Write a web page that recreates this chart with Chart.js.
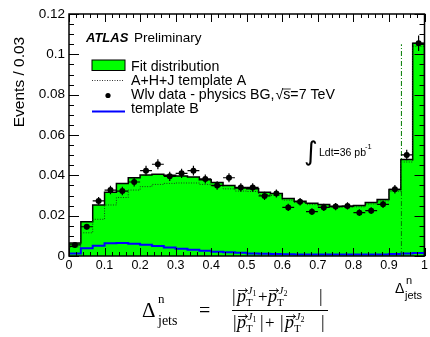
<!DOCTYPE html>
<html><head><meta charset="utf-8">
<script src="https://cdn.jsdelivr.net/npm/chart.js@4/dist/chart.umd.min.js"></script>
<style>html,body{margin:0;padding:0;background:#fff;}#wrap{position:relative;width:430px;height:337px;}</style>
</head><body><div id="wrap"><canvas id="c" width="430" height="337"></canvas></div>
<script>
// ---- data (30 bins of width 1/30 between 0 and 1) ----
const nBins = 30;
const xTickLabels = ['0','0.1','0.2','0.3','0.4','0.5','0.6','0.7','0.8','0.9','1'];
const yTickLabels = ['0','0.02','0.04','0.06','0.08','0.1','0.12'];
const fitValues = [0.0065,0.0170,0.0253,0.0316,0.0360,0.0388,0.0402,0.0405,0.0400,0.0397,
                   0.0392,0.0378,0.0364,0.0350,0.0337,0.0333,0.0316,0.0310,0.0285,0.0272,
                   0.0262,0.0255,0.0247,0.0247,0.0250,0.0265,0.0280,0.0330,0.0478,0.1055];
const templateA = [0.0045,0.0115,0.0182,0.0253,0.0290,0.0327,0.0344,0.0355,0.0360,0.0362,
                   0.0362,0.0355,0.0345,0.0333,0.0322,0.0320,0.0305,0.0300,0.0277,0.0265,
                   0.0255,0.0248,0.0241,0.0241,0.0244,0.0258,0.0273,0.0321,0.0466,0.1040];
const templateB = [0.0013,0.0038,0.0051,0.0063,0.0064,0.0061,0.0056,0.0050,0.0042,0.0036,
                   0.0031,0.0026,0.0021,0.0019,0.0016,0.0013,0.0011,0.0010,0.0009,0.0008,
                   0.0008,0.0007,0.0007,0.0007,0.0007,0.0008,0.0008,0.0010,0.0012,0.0015];
const dataValues = [0.0055,0.0145,0.0273,0.0327,0.0322,0.0367,0.0423,0.0455,0.0395,0.0410,
                    0.0423,0.0382,0.0350,0.0388,0.0340,0.0340,0.0298,0.0310,0.0241,0.0269,
                    0.0220,0.0241,0.0245,0.0248,0.0215,0.0225,0.0256,0.0331,0.0501,0.1055];
const dataErrors = [0.0009,0.0014,0.0019,0.0021,0.0021,0.0022,0.0024,0.0025,0.0023,0.0023,
                    0.0024,0.0022,0.0021,0.0022,0.0021,0.0021,0.0020,0.0020,0.0018,0.0019,
                    0.0017,0.0018,0.0018,0.0018,0.0017,0.0017,0.0018,0.0021,0.0026,0.0038];
const cutX = [0.935];
const cutTop = [0.105];

function histPoints(vals){
  const pts=[{x:0,y:0}];
  vals.forEach((v,i)=>pts.push({x:i/nBins,y:v}));
  pts.push({x:1,y:vals[vals.length-1]});
  pts.push({x:1,y:0});
  return pts;
}
const dataPoints = dataValues.map((v,i)=>({x:(i+0.5)/nBins,y:v}));
const SANS='"Liberation Sans", Arial, Helvetica, sans-serif';
const SERIF='"Liberation Serif", "Times New Roman", serif';

const errorBars = {
  id:'errorBars',
  afterDatasetsDraw(chart){
    const ctx=chart.ctx, xs=chart.scales.x, ys=chart.scales.y;
    ctx.save(); ctx.strokeStyle='#000'; ctx.lineWidth=1.2;
    dataValues.forEach((v,i)=>{
      const xc=(i+0.5)/nBins;
      ctx.beginPath();
      ctx.moveTo(xs.getPixelForValue(i/nBins), ys.getPixelForValue(v));
      ctx.lineTo(xs.getPixelForValue((i+1)/nBins), ys.getPixelForValue(v));
      ctx.moveTo(xs.getPixelForValue(xc), ys.getPixelForValue(v-dataErrors[i]));
      ctx.lineTo(xs.getPixelForValue(xc), ys.getPixelForValue(v+dataErrors[i]));
      ctx.stroke();
    });
    ctx.restore();
  }
};

const frame = {
  id:'frame',
  afterDraw(chart){
    const ctx=chart.ctx, xs=chart.scales.x, ys=chart.scales.y, a=chart.chartArea;
    ctx.save();
    ctx.strokeStyle='#000'; ctx.lineWidth=1;
    ctx.beginPath();
    for(let k=0;k<=50;k++){
      const px=Math.round(xs.getPixelForValue(k/50))+0.5;
      const L = (k%5===0)?8:4;
      ctx.moveTo(px,a.bottom); ctx.lineTo(px,a.bottom-L);
      ctx.moveTo(px,a.top); ctx.lineTo(px,a.top+L);
    }
    for(let k=0;k<=24;k++){
      const py=Math.round(ys.getPixelForValue(k*0.005))+0.5;
      const L = (k%4===0)?10:5;
      ctx.moveTo(a.left,py); ctx.lineTo(a.left+L,py);
      ctx.moveTo(a.right,py); ctx.lineTo(a.right-L,py);
    }
    ctx.stroke();
    ctx.lineWidth=1.5;
    ctx.strokeRect(a.left,a.top,a.right-a.left,a.bottom-a.top);

    // y title
    ctx.fillStyle='#000';
    ctx.save();
    ctx.translate(24,82); ctx.rotate(-Math.PI/2);
    ctx.font='15.5px '+SANS; ctx.textAlign='center'; ctx.textBaseline='alphabetic';
    ctx.fillText('Events / 0.03',0,0);
    ctx.restore();

    // ATLAS label
    ctx.textAlign='left'; ctx.textBaseline='alphabetic';
    ctx.font='bold italic 13px '+SANS;
    ctx.fillText('ATLAS',86,42);
    ctx.font='13.5px '+SANS;
    ctx.fillText('Preliminary',134,42);

    // legend
    ctx.font='14.2px '+SANS;
    ctx.fillStyle='#00ff00'; ctx.fillRect(92,60,33,10.5);
    ctx.strokeStyle='#000'; ctx.lineWidth=1; ctx.strokeRect(92,60,33,10.5);
    ctx.fillStyle='#000';
    ctx.fillText('Fit distribution',131,71);
    ctx.save(); ctx.setLineDash([1,1.5]); ctx.strokeStyle='#333'; ctx.beginPath();
    ctx.moveTo(92,80.5); ctx.lineTo(124,80.5); ctx.stroke(); ctx.restore();
    ctx.fillText('A+H+J template A',131,85);
    ctx.beginPath(); ctx.arc(108,95.5,2.6,0,Math.PI*2); ctx.fill();
    const t1='Wl\u03bd data - physics BG,';
    ctx.fillText(t1,131,99);
    const w1=ctx.measureText(t1).width;
    ctx.fillText('\u221a',131+w1+1,99);
    const w2=ctx.measureText('\u221a').width;
    ctx.fillText('s=7 TeV',131+w1+1+w2,99);
    const xs0=131+w1+1+w2;
    ctx.beginPath(); ctx.lineWidth=0.8; ctx.moveTo(xs0-1,89); ctx.lineTo(xs0+7.5,89); ctx.stroke();
    ctx.strokeStyle='#0000ff'; ctx.lineWidth=2; ctx.beginPath();
    ctx.moveTo(92,111.5); ctx.lineTo(125,111.5); ctx.stroke();
    ctx.fillText('template B',131,113);

    // luminosity
    ctx.font='26px "DejaVu Sans", sans-serif';
    ctx.fillText('\u222b',304,160);
    ctx.font='10.5px '+SANS;
    ctx.fillText('Ldt=36 pb',319,156);
    ctx.font='7.5px '+SANS;
    ctx.fillText('-1',365,149);

    // x title
    ctx.font='14px '+SANS;
    ctx.fillText('\u0394',395,293);
    ctx.font='11px '+SANS;
    ctx.fillText('n',406,284);
    ctx.fillText('jets',405,299);

    // formula
    ctx.font='21px '+SERIF;
    ctx.fillText('\u0394',142,317);
    ctx.font='13px '+SERIF; ctx.fillText('n',158,303);
    ctx.font='14px '+SERIF; ctx.fillText('jets',158,325);
    ctx.font='20px '+SERIF; ctx.fillText('=',199,317);
    ctx.lineWidth=1; ctx.strokeStyle='#000';
    ctx.beginPath(); ctx.moveTo(232,310.5); ctx.lineTo(328,310.5); ctx.stroke();
    function bar(x,base){ ctx.font='18px '+SERIF; ctx.fillText('|',x,base); }
    function plus(x,base){ ctx.font='17px '+SERIF; ctx.fillText('+',x,base); }
    function pT(x,base,k){
      ctx.font='italic 18px '+SERIF; ctx.fillText('p',x,base);
      const w=ctx.measureText('p').width;
      ctx.save(); ctx.lineWidth=0.9; ctx.beginPath();
      const ay=base-11.5; ctx.moveTo(x+1,ay); ctx.lineTo(x+w+1.5,ay);
      ctx.moveTo(x+w-1,ay-2); ctx.lineTo(x+w+1.5,ay); ctx.lineTo(x+w-1,ay+2); ctx.stroke(); ctx.restore();
      ctx.font='11px '+SERIF; ctx.fillText('T',x+w,base+4);
      ctx.font='italic 11px '+SERIF; ctx.fillText('J',x+w+1.5,base-8.5); const wJ=ctx.measureText('J').width;
      ctx.font='8px '+SERIF; ctx.fillText(String(k),x+w+1.5+wJ,base-6.5);
    }
    let b=302;
    bar(232,b); pT(237,b,1); plus(258,b); pT(268,b,2); bar(319,b);
    b=328;
    bar(233,b); pT(237,b,1); bar(260,b); plus(265,b); bar(280,b); pT(285,b,2); bar(321,b);
    ctx.restore();
  }
};

new Chart(document.getElementById('c'),{
  data:{datasets:[
    {type:'line',label:'Wlv data',data:dataPoints,showLine:false,pointRadius:3,pointBackgroundColor:'#000',pointBorderWidth:0,order:0},
    {type:'line',label:'cut',data:[{x:cutX[0],y:0},{x:cutX[0],y:cutTop[0]}],borderColor:'#007a00',borderWidth:1,borderDash:[5,2,1,2],pointRadius:0,order:1},
    {type:'line',label:'template B',data:histPoints(templateB),stepped:'before',borderColor:'#0000ff',borderWidth:2,pointRadius:0,fill:false,order:2},
    {type:'line',label:'template A',data:histPoints(templateA),stepped:'before',borderColor:'#1a3a1a',borderWidth:1,borderDash:[1,1.5],pointRadius:0,fill:false,order:3},
    {type:'line',label:'Fit distribution',data:histPoints(fitValues),stepped:'before',borderColor:'#000',borderWidth:1.5,backgroundColor:'#00ff00',pointRadius:0,fill:'origin',order:4}
  ]},
  options:{
    responsive:false, devicePixelRatio:1, animation:false,
    layout:{padding:{left:0,right:3,top:14,bottom:0}},
    plugins:{legend:{display:false},tooltip:{enabled:false}},
    scales:{
      x:{type:'linear',min:0,max:1,
         grid:{display:false,drawTicks:false},border:{display:false},
         ticks:{stepSize:0.1,padding:2,color:'#000',font:{family:SANS,size:12.5},maxRotation:0,
                callback:(v,i)=>xTickLabels[Math.round(v*10)]},
         afterFit:(s)=>{s.height=81;}},
      y:{type:'linear',min:0,max:0.12,
         grid:{display:false,drawTicks:false},border:{display:false},
         ticks:{stepSize:0.02,padding:4,color:'#000',font:{family:SANS,size:13.5},
                callback:(v)=>yTickLabels[Math.round(v/0.02)]},
         afterFit:(s)=>{s.width=69;}}
    }
  },
  plugins:[errorBars,frame]
});
</script></body></html>
